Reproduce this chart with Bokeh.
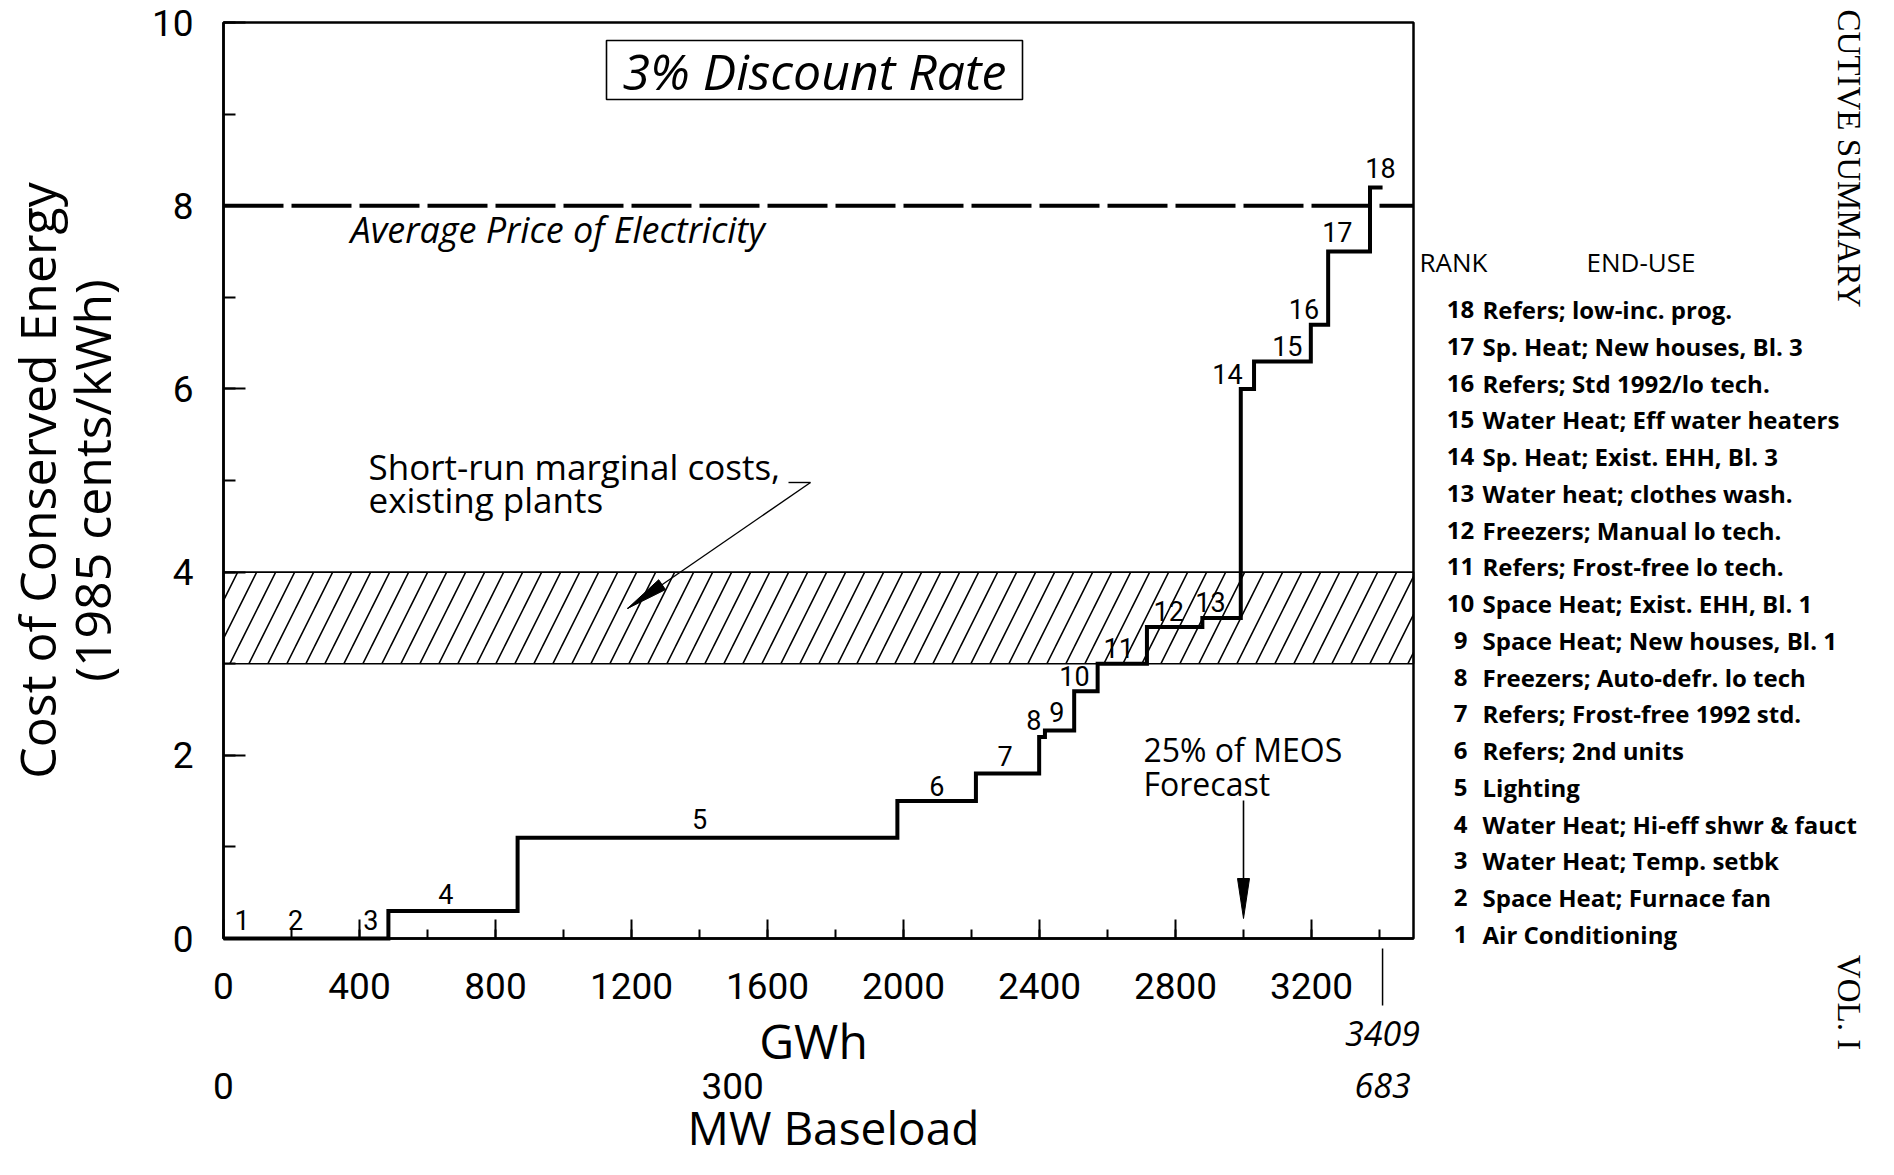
import numpy as np
from bokeh.plotting import figure
from bokeh.models import (Range1d, LinearAxis, SingleIntervalTicker, FixedTicker,
                          BoxAnnotation, Label, Grid)
from bokeh.core.properties import value
from bokeh.embed import file_html
from bokeh.resources import INLINE

# ---------------- data ----------------
ranks = list(range(1, 19))
savings_gwh = [110, 275, 100, 380, 1117, 231, 186, 17, 86, 69, 145, 163, 113, 39, 167, 51, 123, 37]
cost_cents = [0.0, 0.0, 0.0, 0.3, 1.1, 1.5, 1.8, 2.2, 2.27, 2.7, 3.0, 3.4, 3.5, 6.0, 6.3, 6.7, 7.5, 8.2]
end_uses = ["Air Conditioning", "Space Heat; Furnace fan", "Water Heat; Temp. setbk",
            "Water Heat; Hi-eff shwr & fauct", "Lighting", "Refers; 2nd units",
            "Refers; Frost-free 1992 std.", "Freezers; Auto-defr. lo tech",
            "Space Heat; New houses, Bl. 1", "Space Heat; Exist. EHH, Bl. 1",
            "Refers; Frost-free lo tech.", "Freezers; Manual lo tech.",
            "Water heat; clothes wash.", "Sp. Heat; Exist. EHH, Bl. 3",
            "Water Heat; Eff water heaters", "Refers; Std 1992/lo tech.",
            "Sp. Heat; New houses, Bl. 3", "Refers; low-inc. prog."]
avg_price = 8.0
srmc_low, srmc_high = 3.0, 4.0
meos_25pct_gwh = 3000
total_gwh = 3409
total_mw = 683
mw_ticks = [0, 300, 683]
x_max, y_max = 3500, 10

# step-number label anchors (GWh, cents)
num_lab_x = [55, 212, 433, 654, 1400, 2098, 2299, 2383, 2451, 2503, 2633, 2780, 2903, 2953, 3129, 3178, 3276, 3403]
num_lab_y = [0.2, 0.2, 0.2, 0.49, 1.30, 1.67, 1.99, 2.38, 2.47, 2.87, 3.17, 3.57, 3.67, 6.16, 6.47, 6.87, 7.71, 8.41]

# ---------------- layout (pixel targets) ----------------
W, H = 1878, 1159
FL, FR, FT, FB = 223, 1413, 22, 938
PPX = (FR - FL) / x_max
PPY = (FB - FT) / y_max
FONT = "Open Sans"
NUMFONT = "Roboto"


def px2x(fx):
    return (fx - FL) / PPX


def px2y(fy):
    return (FB - fy) / PPY


def x2px(x):
    return FL + x * PPX


X0, X1 = px2x(0), px2x(W)
Y0, Y1 = px2y(H), px2y(0)
k_mw = total_mw / total_gwh

p = figure(width=W, height=H, x_range=Range1d(X0, X1), y_range=Range1d(Y0, Y1),
           output_backend="svg", toolbar_location=None, title=None,
           x_axis_location=None, y_axis_location=None, min_border=0)
p.min_border_left = p.min_border_right = p.min_border_top = p.min_border_bottom = 0
p.background_fill_color = "white"
p.border_fill_color = "white"
p.outline_line_color = None
for g in p.select(type=Grid):
    g.visible = False
p.extra_x_ranges = {"mw": Range1d(X0 * k_mw, X1 * k_mw)}

axis_common = dict(major_tick_out=0, minor_tick_out=0, major_tick_line_width=2,
                   minor_tick_line_width=2, axis_line_width=2.5, axis_line_color="black",
                   major_tick_line_color="black", minor_tick_line_color="black",
                   major_label_text_font=NUMFONT, major_label_text_font_size="37px",
                   major_label_text_color="black")

yax = LinearAxis(fixed_location=0, bounds=(0, y_max),
                 ticker=SingleIntervalTicker(interval=2, num_minor_ticks=2),
                 major_tick_in=22, minor_tick_in=12, major_label_standoff=30, **axis_common)
p.add_layout(yax, "left")

xax = LinearAxis(fixed_location=0, bounds=(0, x_max),
                 ticker=SingleIntervalTicker(interval=400, num_minor_ticks=2),
                 major_tick_in=19, minor_tick_in=9, major_label_standoff=34, **axis_common)
p.add_layout(xax, "below")

mw_axis = LinearAxis(x_range_name="mw", fixed_location=0, bounds=(0, total_mw),
                     ticker=FixedTicker(ticks=mw_ticks), axis_line_color=None,
                     major_tick_line_color=None, minor_tick_line_color=None,
                     major_label_overrides={683: " "}, major_label_standoff=120,
                     major_label_text_font=NUMFONT, major_label_text_font_size="37px",
                     major_label_text_color="black")
p.add_layout(mw_axis, "below")

# hatched short-run marginal cost band
p.add_layout(BoxAnnotation(left=0, right=x_max, bottom=srmc_low, top=srmc_high,
                           fill_color=None, line_color="black", line_alpha=1, line_width=1.6,
                           hatch_pattern="/", hatch_color="black", hatch_alpha=1,
                           hatch_scale=38, hatch_weight=1.6, level="underlay"))

# plot frame
p.add_layout(BoxAnnotation(left=0, right=x_max, bottom=0, top=y_max, fill_color=None,
                           line_color="black", line_alpha=1, line_width=2.5, level="underlay"))

# average price dashed line
p.line([0, x_max], [avg_price, avg_price], line_color="black", line_width=4, line_dash="60 8")

# supply curve
edges = np.concatenate([[0.0], np.cumsum(savings_gwh)])
step_y = cost_cents + [cost_cents[-1]]
p.step(edges, step_y, mode="after", line_color="black", line_width=4, line_join="miter")

# step numbers
p.text(x=num_lab_x, y=num_lab_y, text=[str(r) for r in ranks], text_font=value(NUMFONT),
       text_font_size=value("27px"), text_align="center", text_baseline="middle",
       text_color="black")


def label(x, y, text, size, align="left", baseline="middle", style="normal", angle=0.0,
          font=FONT, **kw):
    p.add_layout(Label(x=x, y=y, text=text, text_font=font, text_font_size=f"{size}px",
                       text_font_style=style, text_align=align, text_baseline=baseline,
                       angle=angle, text_color="black", **kw))


# title box
p.add_layout(BoxAnnotation(left=px2x(606), right=px2x(1022), top=px2y(40), bottom=px2y(99),
                           fill_color="white", fill_alpha=1, line_color="black", line_alpha=1,
                           line_width=1.6))
label(px2x(814), px2y(70), "3% Discount Rate", 50, align="center", style="italic")

label(px2x(350), px2y(229), "Average Price of Electricity", 36, style="italic")

label(px2x(368), px2y(466), "Short-run marginal costs,", 35)
label(px2x(368), px2y(499), "existing plants", 35)

label(px2x(1143), px2y(749), "25% of MEOS", 32)
label(px2x(1143), px2y(783), "Forecast", 32)


def arrow_head(tip, tail, length=40, width=12):
    tx, ty = tip
    bx, by = tail
    d = np.hypot(bx - tx, by - ty)
    ux, uy = (bx - tx) / d, (by - ty) / d
    cx, cy = tx + ux * length, ty + uy * length
    nx, ny = -uy, ux
    pts = [(tx, ty), (cx + nx * width / 2, cy + ny * width / 2), (cx - nx * width / 2, cy - ny * width / 2)]
    return [px2x(a) for a, b in pts], [px2y(b) for a, b in pts]


# pointer from band label
tail = (810, 482)
tip = (627, 608)
p.line([px2x(788), px2x(tail[0])], [px2y(tail[1]), px2y(tail[1])], line_color="black", line_width=1.4)
p.line([px2x(tail[0]), px2x(tip[0])], [px2y(tail[1]), px2y(tip[1])], line_color="black", line_width=1.4)
hx, hy = arrow_head(tip, tail, 42, 12)
p.patch(hx, hy, fill_color="black", line_color="black")

# 25% MEOS arrow
m_tail = (x2px(meos_25pct_gwh), 800)
m_tip = (x2px(meos_25pct_gwh), 918)
p.line([meos_25pct_gwh, meos_25pct_gwh], [px2y(m_tail[1]), px2y(m_tip[1] - 10)], line_color="black", line_width=1.6)
hx, hy = arrow_head(m_tip, m_tail, 40, 12)
p.patch(hx, hy, fill_color="black", line_color="black")

# axis titles
label(px2x(36), px2y(480), "Cost of Conserved Energy", 50, align="center", angle=np.pi / 2)
label(px2x(91), px2y(480), "(1985 cents/kWh)", 50, align="center", angle=np.pi / 2)
label(px2x(813), px2y(1040), "GWh", 48, align="center")
label(px2x(833), px2y(1126), "MW Baseload", 46, align="center")

# totals under the axis
p.segment(x0=[total_gwh], y0=[px2y(948)], x1=[total_gwh], y1=[px2y(1005)],
          line_color="black", line_width=1.5)
label(total_gwh, px2y(1033), str(total_gwh), 34, align="center", style="italic")
label(total_mw, px2y(1085), str(total_mw), 34, align="center", style="italic", x_range_name="mw")

# rank legend
label(px2x(1419), px2y(261), "RANK", 26)
label(px2x(1586), px2y(261), "END-USE", 26)
for r, name in zip(ranks, end_uses):
    fy = 309 + (18 - r) * 36.76
    label(px2x(1460), px2y(fy), str(r), 24, align="center", style="bold")
    label(px2x(1482), px2y(fy), name, 24, style="bold")

# page margin texts
label(px2x(1848), px2y(307), "CUTIVE SUMMARY", 33, align="right", angle=-np.pi / 2,
      font="Liberation Serif")
label(px2x(1848), px2y(1002), "VOL. I", 33, align="center", angle=-np.pi / 2,
      font="Liberation Serif")

open("out.html", "w").write(file_html(p, INLINE))
